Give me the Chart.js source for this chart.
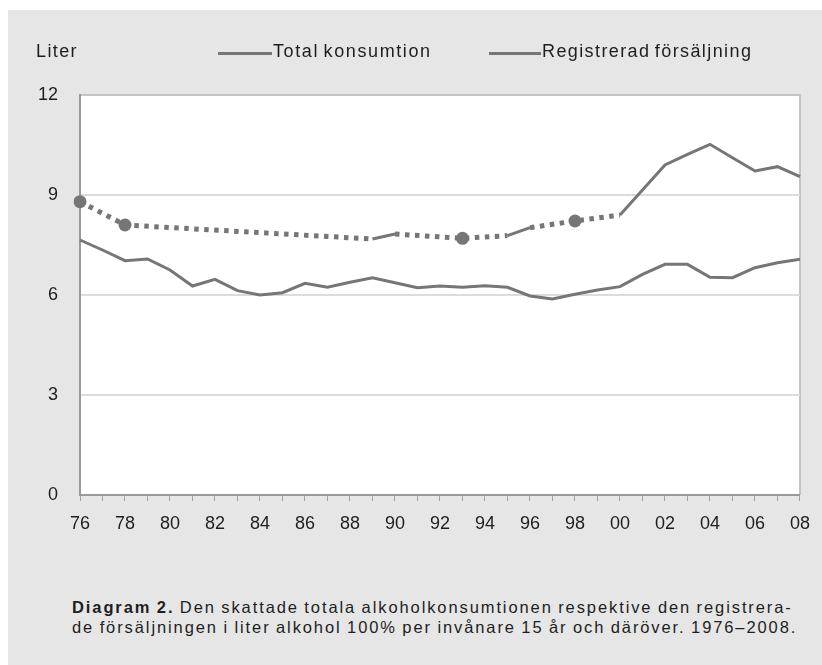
<!DOCTYPE html>
<html>
<head>
<meta charset="utf-8">
<script src="https://cdn.jsdelivr.net/npm/chart.js@4"></script>
<style>
  body { margin: 0; background: #fff; font-family: "Liberation Sans", Arial, sans-serif; color: #1e1e1e; }
  #panel { position: absolute; left: 8px; top: 10px; width: 814px; height: 655px; background: #e6e6e6; }
  #wrap { position: absolute; left: 0; top: 0; width: 822px; height: 560px; }
  .txt { position: absolute; font-size: 18px; white-space: nowrap; letter-spacing: 1.4px; word-spacing: -2px; }
  .key { position: absolute; height: 3px; background: #767676; }
  #caption { position: absolute; left: 72px; top: 597px; font-size: 16.5px; line-height: 20px; letter-spacing: 1.9px; word-spacing: -1px; white-space: nowrap; }
</style>
</head>
<body>
<div id="panel"></div>
<div id="wrap"><canvas id="chart"></canvas></div>
<div class="txt" style="left:36px; top:41px;">Liter</div>
<div class="key" style="left:218px; top:52px; width:54px;"></div>
<div class="txt" style="left:273px; top:41px; letter-spacing:1.6px;">Total konsumtion</div>
<div class="key" style="left:489px; top:52px; width:52px;"></div>
<div class="txt" style="left:542px; top:41px;">Registrerad försäljning</div>
<div id="caption"><b>Diagram 2.</b> Den skattade totala alkoholkonsumtionen respektive den registrera-<br>de försäljningen i liter alkohol 100% per invånare 15 år och däröver. 1976–2008.</div>
<script>
// years 1976-2008
const years = ['76','77','78','79','80','81','82','83','84','85','86','87','88','89','90','91',
               '92','93','94','95','96','97','98','99','00','01','02','03','04','05','06','07','08'];

// total consumption, null = no estimate that year (drawn dotted across the gap)
const totalKonsumtion = [8.8, null, 8.1, null, null, null, null, null, null, null, null, null, null, 7.68, 7.83, null,
                         null, 7.7, null, 7.78, 8.02, null, 8.22, null, 8.4, 9.15, 9.9, 10.22, 10.52, 10.12, 9.72, 9.85, 9.55];

// surveys shown with a marker
const markerYears = ['76', '78', '93', '98'];

const registreradForsaljning = [7.65, 7.35, 7.03, 7.08, 6.75, 6.27, 6.47, 6.13, 6.0, 6.07, 6.35, 6.23, 6.38, 6.52, 6.37, 6.22,
                                6.27, 6.23, 6.28, 6.23, 5.97, 5.88, 6.02, 6.15, 6.25, 6.62, 6.92, 6.92, 6.53, 6.52, 6.82, 6.97, 7.07];

const yTicks = [0, 3, 6, 9, 12];

const lineColor = '#767676';

const plotBg = {
  id: 'plotBg',
  beforeDraw(chart) {
    const {ctx, chartArea: a} = chart;
    ctx.save();
    ctx.fillStyle = '#ffffff';
    ctx.fillRect(a.left, a.top, a.right - a.left, a.bottom - a.top);
    ctx.strokeStyle = '#c4c4c4';
    ctx.lineWidth = 2;
    ctx.beginPath();
    ctx.moveTo(a.left, a.top);
    ctx.lineTo(a.right, a.top);
    ctx.lineTo(a.right, a.bottom);
    ctx.stroke();
    ctx.restore();
  }
};

const skipped = (ctx, value) => ctx.p0.skip || ctx.p1.skip ? value : undefined;

new Chart(document.getElementById('chart'), {
  type: 'line',
  data: {
    labels: years,
    datasets: [{
      label: 'Total konsumtion',
      data: totalKonsumtion,
      borderColor: lineColor,
      backgroundColor: lineColor,
      borderWidth: 3,
      spanGaps: true,
      tension: 0,
      pointRadius: ctx => markerYears.includes(years[ctx.dataIndex]) ? 6.5 : 0,
      pointBorderWidth: 0,
      segment: {
        borderDash: ctx => skipped(ctx, [4.5, 5.5]),
        borderWidth: ctx => skipped(ctx, 5)
      }
    }, {
      label: 'Registrerad försäljning',
      data: registreradForsaljning,
      borderColor: lineColor,
      borderWidth: 3,
      tension: 0,
      pointRadius: 0
    }]
  },
  options: {
    responsive: true,
    maintainAspectRatio: false,
    animation: false,
    layout: { padding: { top: 95, right: 20, left: 0, bottom: 20 } },
    plugins: {
      legend: { display: false },
      tooltip: { enabled: false }
    },
    scales: {
      x: {
        grid: { drawOnChartArea: false, drawTicks: true, tickLength: 6, color: '#a0a0a0' },
        border: { color: '#9a9a9a', width: 2 },
        ticks: {
          autoSkip: false,
          maxRotation: 0,
          padding: 12,
          color: '#1e1e1e',
          font: { family: 'Liberation Sans', size: 18 },
          callback: (v, i) => i % 2 === 0 ? years[i] : ''
        },
        afterFit: s => { s.height = 45; }
      },
      y: {
        min: 0,
        max: 12,
        afterBuildTicks: s => { s.ticks = yTicks.map(v => ({ value: v })); },
        grid: { color: ctx => ctx.tick.value === 12 ? 'rgba(0,0,0,0)' : '#dcdcdc', lineWidth: 2, drawTicks: false },
        border: { color: '#9a9a9a', width: 2 },
        ticks: {
          padding: 22,
          color: '#1e1e1e',
          font: { family: 'Liberation Sans', size: 18 }
        },
        afterFit: s => { s.width = 80; }
      }
    }
  },
  plugins: [plotBg]
});
</script>
</body>
</html>
